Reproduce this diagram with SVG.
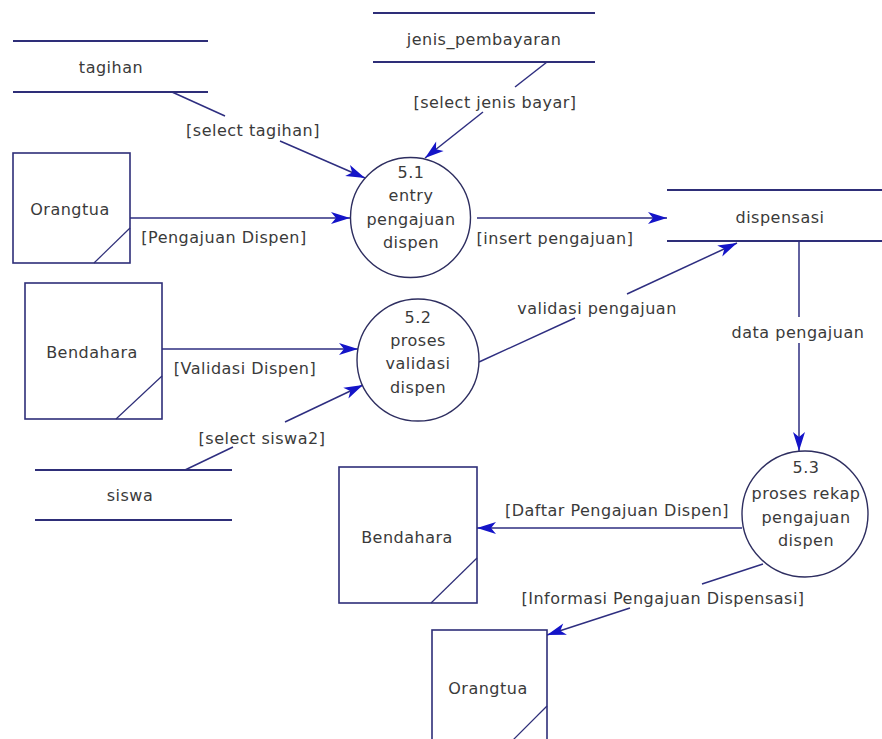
<svg xmlns="http://www.w3.org/2000/svg" width="882" height="739" viewBox="0 0 882 739">
<style>
text{font-family:"DejaVu Sans","Verdana",sans-serif;font-size:16px;fill:#3a3a3a;letter-spacing:0.5px;text-anchor:middle}
.ent{fill:#fff;stroke:#2e2e78;stroke-width:1.6}
.diag{stroke:#2e2e78;stroke-width:1.2;fill:none}
.store{stroke:#2e2e78;stroke-width:1.8;fill:none}
.proc{fill:#fff;stroke:#2e2e60;stroke-width:1.4}
.flow{stroke:#2e2e80;stroke-width:1.5;fill:none}
</style>
<defs>
<marker id="arr" markerUnits="userSpaceOnUse" viewBox="-21 -7 22 14" refX="0" refY="0" markerWidth="22" markerHeight="14" orient="auto">
<path d="M0,0 L-19,-6 L-14,0 L-19,6 Z" fill="#1414c8"/>
</marker>
</defs>
<rect width="882" height="739" fill="#fff"/>

<g id="connectors">
<line class="flow" x1="130" y1="218" x2="350" y2="218" marker-end="url(#arr)"/>
<line class="flow" x1="172" y1="92" x2="225" y2="116"/>
<line class="flow" x1="280" y1="141" x2="365" y2="178" marker-end="url(#arr)"/>
<line class="flow" x1="547" y1="62" x2="515" y2="87"/>
<line class="flow" x1="483" y1="112" x2="425" y2="158" marker-end="url(#arr)"/>
<line class="flow" x1="477" y1="218" x2="667" y2="218" marker-end="url(#arr)"/>
<line class="flow" x1="162" y1="349" x2="358" y2="349" marker-end="url(#arr)"/>
<line class="flow" x1="185" y1="470" x2="233" y2="447"/>
<line class="flow" x1="285" y1="422" x2="363" y2="385" marker-end="url(#arr)"/>
<line class="flow" x1="479" y1="362" x2="575" y2="318"/>
<line class="flow" x1="627" y1="294" x2="737" y2="243" marker-end="url(#arr)"/>
<line class="flow" x1="799" y1="241" x2="799" y2="317"/>
<line class="flow" x1="799" y1="343" x2="799" y2="451" marker-end="url(#arr)"/>
<line class="flow" x1="742" y1="528" x2="477" y2="528" marker-end="url(#arr)"/>
<line class="flow" x1="763" y1="564" x2="702" y2="584"/>
<line class="flow" x1="630" y1="608" x2="547" y2="635" marker-end="url(#arr)"/>
<text x="253" y="136">[select tagihan]</text>
<text x="495" y="108">[select jenis bayar]</text>
<text x="224" y="243">[Pengajuan Dispen]</text>
<text x="555" y="244">[insert pengajuan]</text>
<text x="597" y="314">validasi pengajuan</text>
<text x="798" y="338">data pengajuan</text>
<text x="245" y="374">[Validasi Dispen]</text>
<text x="262" y="444">[select siswa2]</text>
<text x="617" y="516">[Daftar Pengajuan Dispen]</text>
<text x="663" y="604">[Informasi Pengajuan Dispensasi]</text>
</g>

<g id="store-tagihan">
<line class="store" x1="13" y1="41" x2="208" y2="41"/>
<line class="store" x1="13" y1="92" x2="208" y2="92"/>
<text x="111" y="73">tagihan</text>
</g>
<g id="store-jenis_pembayaran">
<line class="store" x1="373" y1="13" x2="595" y2="13"/>
<line class="store" x1="373" y1="62" x2="595" y2="62"/>
<text x="484" y="45">jenis_pembayaran</text>
</g>
<g id="store-dispensasi">
<line class="store" x1="667" y1="190" x2="882" y2="190"/>
<line class="store" x1="667" y1="241" x2="882" y2="241"/>
<text x="780" y="223">dispensasi</text>
</g>
<g id="store-siswa">
<line class="store" x1="35" y1="470" x2="232" y2="470"/>
<line class="store" x1="35" y1="520" x2="232" y2="520"/>
<text x="130" y="501">siswa</text>
</g>

<g id="ent-orangtua1">
<rect class="ent" x="13" y="153" width="117" height="110"/>
<line class="diag" x1="130" y1="228" x2="94" y2="263"/>
<text x="70" y="215">Orangtua</text>
</g>
<g id="ent-bendahara1">
<rect class="ent" x="25" y="283" width="137" height="136"/>
<line class="diag" x1="162" y1="376" x2="116" y2="419"/>
<text x="92" y="358">Bendahara</text>
</g>
<g id="ent-bendahara2">
<rect class="ent" x="339" y="467" width="138" height="136"/>
<line class="diag" x1="477" y1="558" x2="431" y2="603"/>
<text x="407" y="543">Bendahara</text>
</g>
<g id="ent-orangtua2">
<rect class="ent" x="432" y="630" width="115" height="112"/>
<line class="diag" x1="547" y1="706" x2="511" y2="742"/>
<text x="488" y="694">Orangtua</text>
</g>

<g id="proc-5-1">
<circle class="proc" cx="410.5" cy="217.5" r="60"/>
<text x="411" y="178">5.1</text>
<text x="411" y="201">entry</text>
<text x="411" y="225">pengajuan</text>
<text x="411" y="248">dispen</text>
</g>
<g id="proc-5-2">
<circle class="proc" cx="418" cy="360" r="61"/>
<text x="418" y="323">5.2</text>
<text x="418" y="346">proses</text>
<text x="418" y="369">validasi</text>
<text x="418" y="393">dispen</text>
</g>
<g id="proc-5-3">
<circle class="proc" cx="805" cy="514" r="63"/>
<text x="806" y="473">5.3</text>
<text x="806" y="499">proses rekap</text>
<text x="806" y="523">pengajuan</text>
<text x="806" y="546">dispen</text>
</g>
</svg>
